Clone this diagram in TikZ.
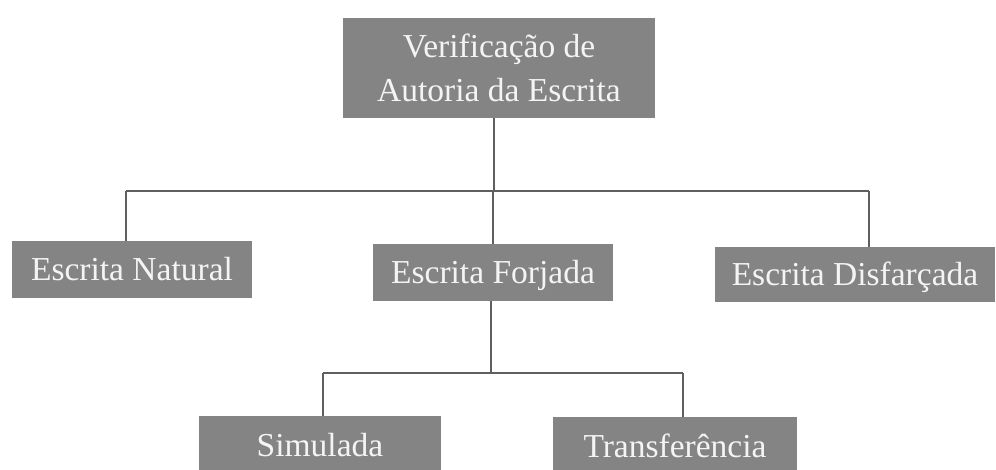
\documentclass[tikz,border=0pt]{standalone}
\usepackage{fontspec}
\setmainfont{Liberation Serif}
\definecolor{boxgray}{RGB}{132,132,132}
\definecolor{boxtext}{RGB}{244,244,244}
\definecolor{linegray}{RGB}{95,95,95}
\tikzset{
  catbox/.style={fill=boxgray, inner sep=0pt, anchor=center,
    text=boxtext, font=\fontsize{33.5}{44}\selectfont,
    text height=22pt, text depth=0pt},
  conn/.style={draw=linegray, line width=1.2pt}
}
\begin{document}
\begin{tikzpicture}[x=1pt,y=-1pt]
\useasboundingbox (0,0) rectangle (996,469);
\clip (0,0) rectangle (996,469);
% nodes
\node[catbox, minimum width=312pt, minimum height=100pt, align=center,
      text height=, text depth=] (top) at (499,68)
      {Verificação de\\Autoria da Escrita};
\node[catbox, minimum width=240pt, minimum height=57pt] (nat) at (132,269.5) {Escrita Natural};
\node[catbox, minimum width=240pt, minimum height=57pt] (forj) at (493,272.5) {Escrita Forjada};
\node[catbox, minimum width=280pt, minimum height=55pt] (disf) at (855,274.5) {Escrita Disfarçada};
\node[catbox, minimum width=242pt, minimum height=58pt] (sim) at (320,445) {Simulada};
\node[catbox, minimum width=244pt, minimum height=58pt] (tra) at (675,446) {Transferência};
% junction coordinates
\coordinate (jt) at (494,191);
\coordinate (jl) at (126,191);
\coordinate (jr) at (869,191);
\coordinate (jf) at (493,191);
\coordinate (jb) at (491,373);
\coordinate (jbl) at (323,373);
\coordinate (jbr) at (683,373);
% connectors
\draw[conn] (top.south -| jt) -- (jt);
\draw[conn] (jl) -- (jr);
\draw[conn] (jl) -- (jl |- nat.north);
\draw[conn] (jf) -- (jf |- forj.north);
\draw[conn] (jr) -- (jr |- disf.north);
\draw[conn] (forj.south -| jb) -- (jb);
\draw[conn] (jbl) -- (jbr);
\draw[conn] (jbl) -- (jbl |- sim.north);
\draw[conn] (jbr) -- (jbr |- tra.north);
\end{tikzpicture}
\end{document}
